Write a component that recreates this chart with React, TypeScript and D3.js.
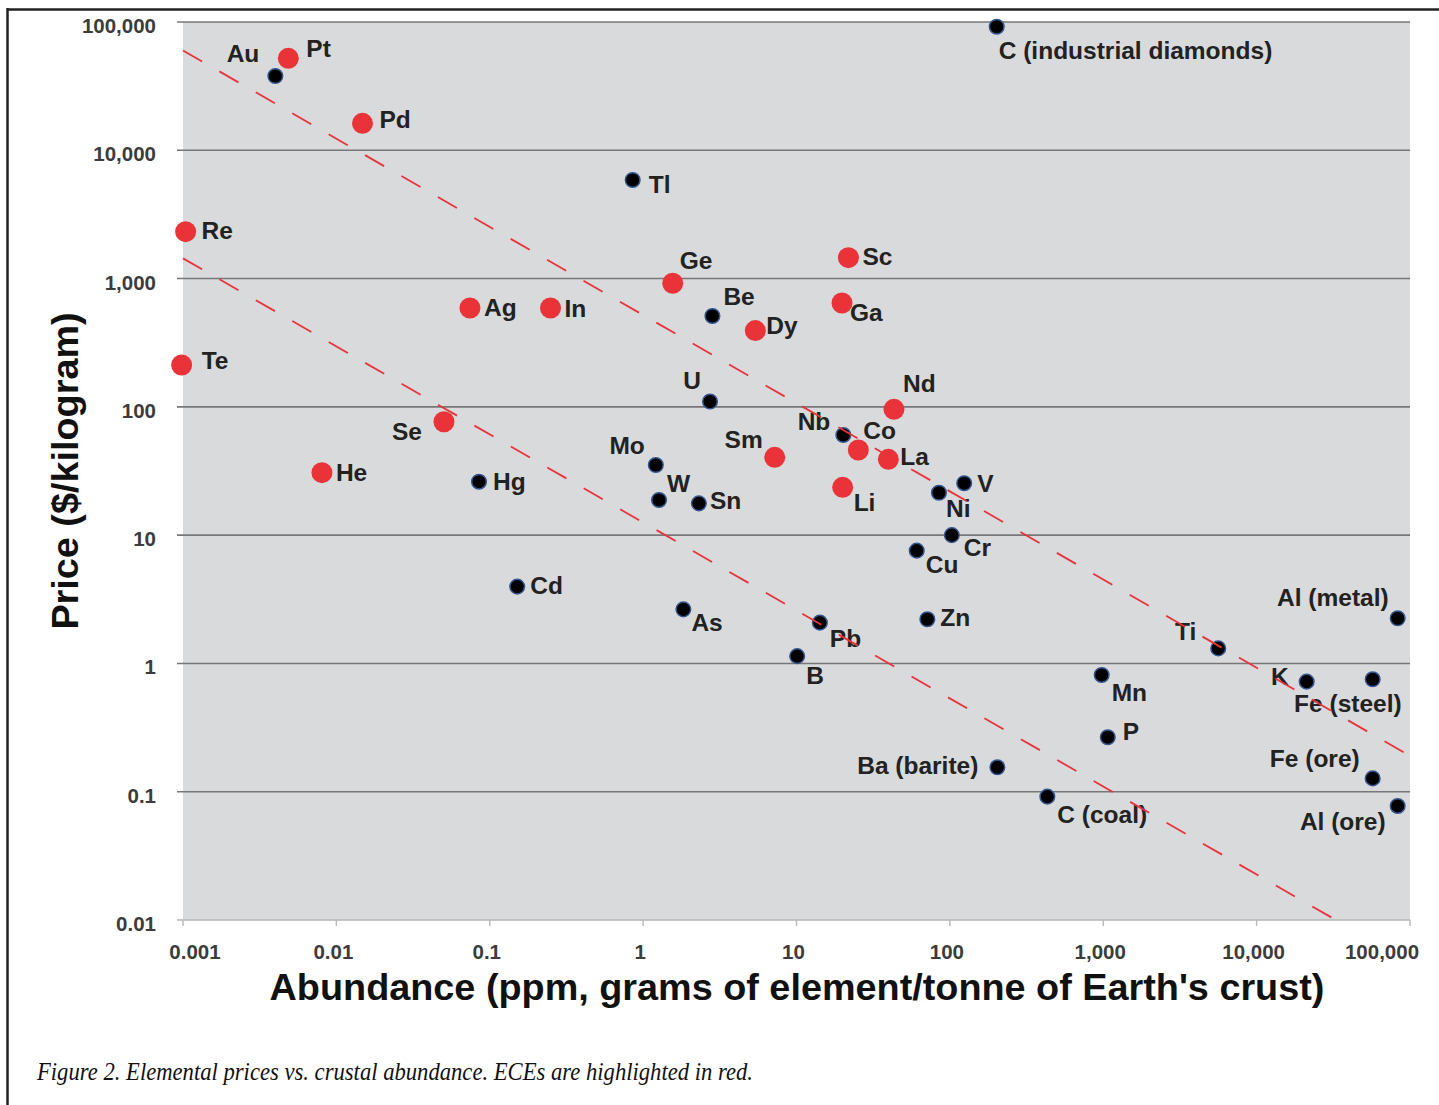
import React, { useEffect, useRef } from "react";
import * as d3 from "d3";

// element name, crustal abundance (ppm), price ($/kg), ECE highlight
const elementNames = [
  "C (industrial diamonds)", "Au", "Tl", "Be", "U", "Nb", "Mo", "W", "Sn", "Hg",
  "Cd", "As", "Pb", "B", "Ni", "V", "Cr", "Cu", "Zn", "Ti",
  "Al (metal)", "Mn", "P", "Ba (barite)", "C (coal)", "K", "Fe (steel)", "Fe (ore)", "Al (ore)",
  "Pt", "Pd", "Re", "Te", "He", "Se", "Ag", "In", "Ge", "Sc",
  "Ga", "Dy", "Nd", "Sm", "Co", "La", "Li",
];
const abundance = [
  202, 0.004, 0.855, 2.83, 2.73, 20.2, 1.21, 1.27, 2.31, 0.0851,
  0.151, 1.83, 14.2, 10.1, 84.9, 124, 103, 60.8, 71.3, 5620,
  83100, 977, 1070, 204, 432, 21200, 57100, 57100, 83100,
  0.00486, 0.0148, 0.00104, 0.00098, 0.00805, 0.0503, 0.0743, 0.249, 1.56, 21.8,
  19.8, 5.39, 43.2, 7.21, 25.3, 39.7, 20.0,
];
const price = [
  91900, 37900, 5870, 511, 110, 60.4, 35.2, 18.8, 17.7, 26.1,
  3.97, 2.64, 2.08, 1.14, 21.4, 25.4, 10.0, 7.57, 2.21, 1.31,
  2.25, 0.813, 0.266, 0.155, 0.0915, 0.721, 0.752, 0.127, 0.0774,
  52100, 16230, 2320, 212, 30.7, 76.6, 590, 590, 919, 1455,
  645, 393, 95.7, 40.4, 46.1, 39.0, 23.6,
];
const isECE = elementNames.map((_, i) => i >= 29);

// label placement next to each point: [dx, dy, anchor]
const labelPlacement: [number, number, string][] = [
  [2, 32, "start"], [-16, -14, "end"], [16, 13, "start"], [11, -11, "start"], [-9, -13, "end"],
  [-13, -5, "end"], [-11, -11, "end"], [8, -8, "start"], [11, 6, "start"], [14, 8, "start"],
  [13, 7, "start"], [8, 22, "start"], [10, 24, "start"], [9, 28, "start"], [7, 24, "start"],
  [13, 9, "start"], [12, 21, "start"], [9, 22, "start"], [13, 7, "start"], [-22, -8, "end"],
  [-9, -12, "end"], [10, 26, "start"], [15, 3, "start"], [-19, 7, "end"], [10, 26, "start"],
  [-18, 3, "end"], [29, 33, "end"], [-13, -11, "end"], [-12, 24, "end"],
  [18, -1, "start"], [17, 5, "start"], [16, 7, "start"], [20, 4, "start"], [14, 8, "start"],
  [-22, 18, "end"], [14, 8, "start"], [14, 9, "start"], [7, -14, "start"], [14, 7, "start"],
  [8, 18, "start"], [11, 3, "start"], [9, -17, "start"], [-12, -9, "end"], [5, -11, "start"],
  [12, 6, "start"], [11, 24, "start"],
];

const xTicks = [0.001, 0.01, 0.1, 1, 10, 100, 1000, 10000, 100000];
const xTickLabels = ["0.001", "0.01", "0.1", "1", "10", "100", "1,000", "10,000", "100,000"];
const yTicks = [0.01, 0.1, 1, 10, 100, 1000, 10000, 100000];
const yTickLabels = ["0.01", "0.1", "1", "10", "100", "1,000", "10,000", "100,000"];

// dashed trend bands (abundance, price)
const upperTrend = [[0.001, 60000], [100000, 0.19]];
const lowerTrend = [[0.001, 1437], [32900, 0.01]];

const SANS = "'Liberation Sans', Arial, sans-serif";

function App() {
  const svgRef = useRef(null);

  useEffect(() => {
    document.body.style.margin = "0";

    const left = 183, right = 1410, top = 22, bottom = 920;

    const svg = d3.select(svgRef.current);
    svg.selectAll("*").remove();

    const x = d3.scaleLog().domain([0.001, 100000]).range([left, right]);
    const y = d3.scaleLog().domain([0.01, 100000]).range([bottom, top]);

    // frame
    svg.append("line").attr("x1", 7).attr("x2", 1439).attr("y1", 9.5).attr("y2", 9.5)
      .attr("stroke", "#222").attr("stroke-width", 2.5);
    svg.append("line").attr("x1", 7.5).attr("x2", 7.5).attr("y1", 8).attr("y2", 1105)
      .attr("stroke", "#222").attr("stroke-width", 2.5);

    // plot background
    svg.append("rect").attr("x", left).attr("y", top)
      .attr("width", right - left).attr("height", bottom - top)
      .attr("fill", "#d9dadb");

    // horizontal gridlines
    svg.append("g").selectAll("line").data(yTicks.filter((d) => d > 0.01)).enter()
      .append("line")
      .attr("x1", left - 6).attr("x2", right)
      .attr("y1", (d) => y(d)).attr("y2", (d) => y(d))
      .attr("stroke", "#777").attr("stroke-width", 1.6);

    // bottom axis line + ticks
    svg.append("line").attr("x1", left - 6).attr("x2", right)
      .attr("y1", bottom).attr("y2", bottom)
      .attr("stroke", "#b5b5b5").attr("stroke-width", 1.5);
    svg.append("g").selectAll("line").data(xTicks).enter()
      .append("line")
      .attr("x1", (d) => x(d)).attr("x2", (d) => x(d))
      .attr("y1", bottom).attr("y2", bottom + 6)
      .attr("stroke", "#bbb").attr("stroke-width", 1.5);

    // tick labels
    svg.append("g").selectAll("text").data(yTicks).enter()
      .append("text")
      .attr("x", 156)
      .attr("y", (d) => y(d) + 11)
      .attr("text-anchor", "end")
      .style("font-family", SANS).style("font-weight", "bold")
      .style("font-size", "20.5px").attr("fill", "#3c3c3c")
      .text((d, i) => yTickLabels[i]);

    svg.append("g").selectAll("text").data(xTicks).enter()
      .append("text")
      .attr("x", (d, i) => x(d) + (i === 0 ? 12 : i === xTicks.length - 1 ? -28 : -3))
      .attr("y", 959)
      .attr("text-anchor", "middle")
      .style("font-family", SANS).style("font-weight", "bold")
      .style("font-size", "20.5px").attr("fill", "#3c3c3c")
      .text((d, i) => xTickLabels[i]);

    // axis titles
    svg.append("text")
      .attr("x", 797).attr("y", 1000)
      .attr("text-anchor", "middle")
      .style("font-family", SANS).style("font-weight", "bold")
      .style("font-size", "37.8px").attr("fill", "#111")
      .text("Abundance (ppm, grams of element/tonne of Earth's crust)");

    svg.append("text")
      .attr("transform", `translate(78, ${(top + bottom) / 2}) rotate(-90)`)
      .attr("text-anchor", "middle")
      .style("font-family", SANS).style("font-weight", "bold")
      .style("font-size", "37.8px").attr("fill", "#111")
      .text("Price ($/kilogram)");

    const idx = elementNames.map((_, i) => i);

    // points: black first, red on top
    svg.append("g").selectAll("circle").data(idx.filter((i) => !isECE[i])).enter()
      .append("circle")
      .attr("cx", (i) => x(abundance[i])).attr("cy", (i) => y(price[i]))
      .attr("r", 7.3)
      .attr("fill", "#000").attr("stroke", "#34568f").attr("stroke-width", 1.5);

    svg.append("g").selectAll("circle").data(idx.filter((i) => isECE[i])).enter()
      .append("circle")
      .attr("cx", (i) => x(abundance[i])).attr("cy", (i) => y(price[i]))
      .attr("r", 10.5)
      .attr("fill", "#ea3339");

    // labels
    svg.append("g").selectAll("text").data(idx).enter()
      .append("text")
      .attr("x", (i) => x(abundance[i]) + labelPlacement[i][0])
      .attr("y", (i) => y(price[i]) + labelPlacement[i][1])
      .attr("text-anchor", (i) => labelPlacement[i][2])
      .style("font-family", SANS).style("font-weight", "bold")
      .style("font-size", "24.5px").attr("fill", "#222")
      .text((i) => elementNames[i]);

    // dashed trend lines on top
    const line = d3.line<number[]>().x((d) => x(d[0])).y((d) => y(d[1]));
    [upperTrend, lowerTrend].forEach((t) => {
      svg.append("path").attr("d", line(t))
        .attr("fill", "none").attr("stroke", "#e8333b")
        .attr("stroke-width", 1.8).attr("stroke-dasharray", "22 20");
    });

    // caption
    svg.append("text")
      .attr("x", 37).attr("y", 1080)
      .attr("textLength", 716).attr("lengthAdjust", "spacingAndGlyphs")
      .style("font-family", "'Liberation Serif', 'Times New Roman', serif")
      .style("font-style", "italic").style("font-size", "25px").attr("fill", "#111")
      .text("Figure 2. Elemental prices vs. crustal abundance. ECEs are highlighted in red.");
  }, []);

  return (
    <div>
      <svg ref={svgRef} width={1439} height={1105} style={{ display: "block", background: "#fff" }}></svg>
    </div>
  );
}

export default App;
